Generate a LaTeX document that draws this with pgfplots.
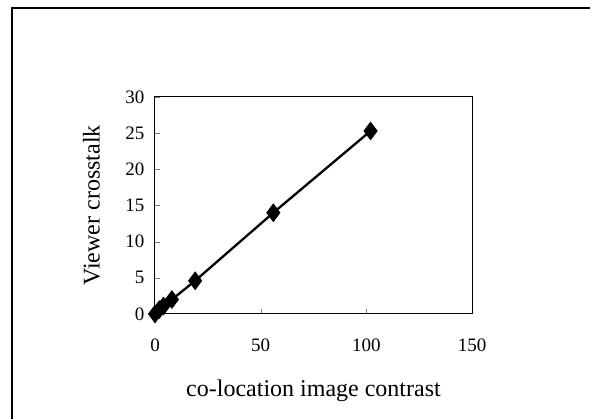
\documentclass[border=0pt]{standalone}
\usepackage{pgfplots}
\pgfplotsset{compat=1.18}
\usepackage{fontspec}
\setmainfont{Liberation Serif}
\begin{document}
\begin{tikzpicture}[x=1pt,y=1pt]
\useasboundingbox (0,0) rectangle (590,419);
% scanned page frame
\draw[line width=1.2pt] (12,0) -- (12,411) -- (590,411);
\begin{axis}[
  at={(155pt,105pt)}, anchor=south west,
  scale only axis,
  width=317pt, height=217pt,
  xmin=0, xmax=150, ymin=0, ymax=30,
  xtick={0,50,100,150},
  ytick={0,5,10,15,20,25,30},
  xtick pos=bottom, ytick pos=left,
  tick align=inside,
  major tick length=5pt,
  axis line style={line width=1pt},
  /pgf/number format/assume math mode=true,
  ticklabel style={font=\fontsize{19}{22}\selectfont},
  xticklabel style={yshift=-21pt},
  yticklabel style={xshift=-7pt},
  xlabel={co-location image contrast},
  ylabel={Viewer crosstalk},
  label style={font=\fontsize{24}{28}\selectfont},
  xlabel style={at={(axis description cs:0.5,-0.355)}, anchor=center},
  ylabel style={at={(axis description cs:-0.2,0.5)}, anchor=center},
  clip=false,
]
\addplot[black, line width=2.3pt, mark=diamond*, mark size=9pt,
  mark options={fill=black, line width=0.5pt}]
  coordinates {
    (0,0) (2,0.6) (4,1.1) (8,2.0) (19,4.6) (56,14.0) (102,25.3)
  };
\end{axis}
\end{tikzpicture}
\end{document}
